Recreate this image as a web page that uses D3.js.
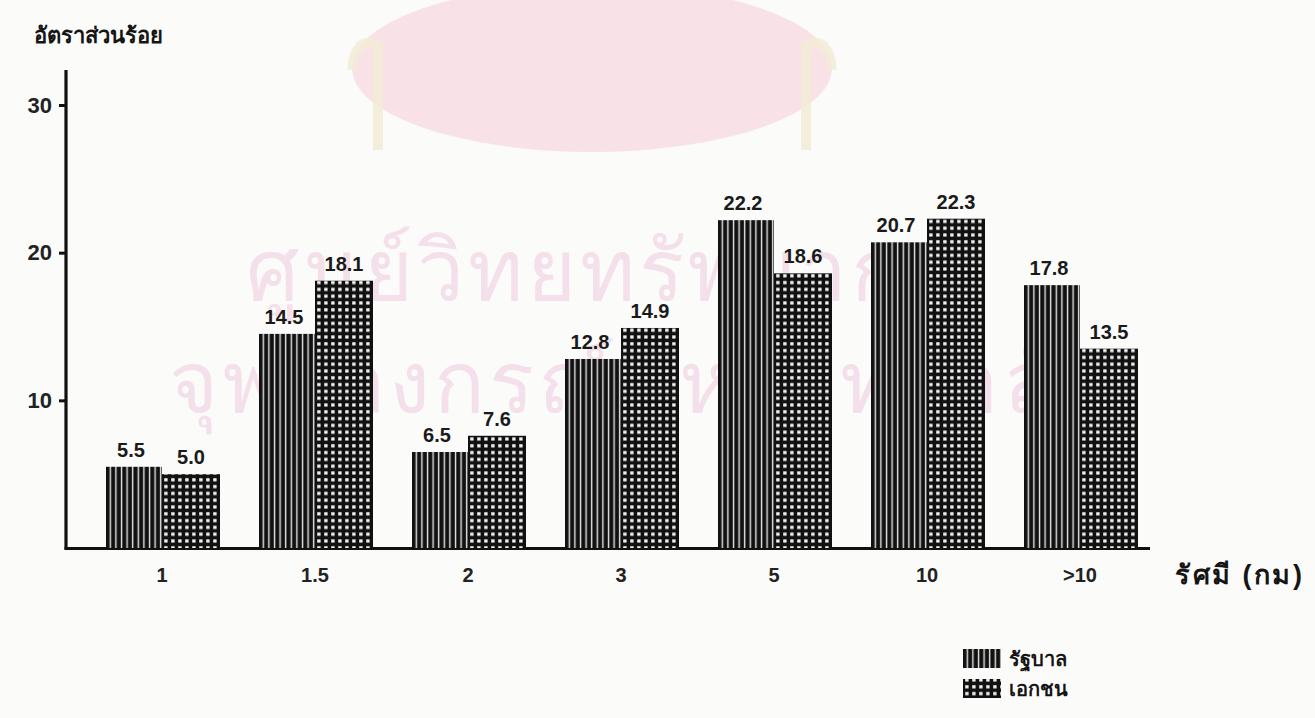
<!DOCTYPE html>
<html>
<head>
<meta charset="utf-8">
<script src="https://cdn.jsdelivr.net/npm/d3@7"></script>
<style>
  html, body { margin: 0; padding: 0; background: #fbfbfa; }
  svg { display: block; }
  text { font-family: "Liberation Sans", Arial, "Noto Sans", sans-serif; }
</style>
</head>
<body>
<svg id="chart" width="1315" height="718"></svg>
<script>
// Distance from home (km) and share of respondents (%) by sector
const categories = ["1", "1.5", "2", "3", "5", "10", ">10"];
const government = [5.5, 14.5, 6.5, 12.8, 22.2, 20.7, 17.8];
const privateSector = [5.0, 18.1, 7.6, 14.9, 18.6, 22.3, 13.5];
const yTicks = [10, 20, 30];
const seriesNames = ["รัฐบาล", "เอกชน"];

const svg = d3.select("#chart");

// Patterns: vertical hatching for government, grid for private
const defs = svg.append("defs");
const pv = defs.append("pattern").attr("id", "pat-gov")
  .attr("patternUnits", "userSpaceOnUse").attr("width", 5.6).attr("height", 10);
pv.append("rect").attr("width", 5.6).attr("height", 10).attr("fill", "#111");
pv.append("rect").attr("x", 3.6).attr("width", 1.4).attr("height", 10).attr("fill", "#e8e8e8");

const pg = defs.append("pattern").attr("id", "pat-priv")
  .attr("patternUnits", "userSpaceOnUse").attr("width", 7).attr("height", 6.8);
pg.append("rect").attr("width", 7).attr("height", 6.8).attr("fill", "#111");
pg.append("rect").attr("x", 2.2).attr("y", 2.2).attr("width", 3.4).attr("height", 3.2).attr("fill", "#f2f2f2");

// Faint library stamp behind the chart
const stamp = svg.append("g").attr("class", "stamp");
stamp.append("ellipse").attr("cx", 592).attr("cy", 68).attr("rx", 240).attr("ry", 84)
  .attr("fill", "#f7dfe5").attr("opacity", 0.9);
stamp.append("path")
  .attr("d", "M352,70 Q355,35 378,45 L378,150 M832,70 Q829,35 806,45 L806,150")
  .attr("fill", "none").attr("stroke", "#f3ecd6").attr("stroke-width", 10).attr("opacity", 0.8);
stamp.append("text").attr("x", 600).attr("y", 300).attr("text-anchor", "middle")
  .attr("font-size", 84).attr("letter-spacing", 4).attr("fill", "#f4e0ea").text("ศูนย์วิทยทรัพยากร");
stamp.append("text").attr("x", 640).attr("y", 412).attr("text-anchor", "middle")
  .attr("font-size", 84).attr("letter-spacing", 4).attr("fill", "#f4e0ea").text("จุฬาลงกรณ์มหาวิทยาลัย");

// Scales
const x0 = d3.scaleBand().domain(categories).range([85.5, 1156.5]).padding(0);
const y = d3.scaleLinear().domain([0, 30]).range([548, 105]);
const barW = 56;

// Axes
const axisG = svg.append("g");
axisG.append("line").attr("x1", 66).attr("x2", 66).attr("y1", 70).attr("y2", 549.5)
  .attr("stroke", "#111").attr("stroke-width", 3.2);
axisG.append("line").attr("x1", 64.5).attr("x2", 1150).attr("y1", 548.5).attr("y2", 548.5)
  .attr("stroke", "#111").attr("stroke-width", 3);

const yAxis = d3.axisLeft(y).tickValues(yTicks).tickSize(7).tickPadding(7).tickFormat(d3.format("d"));
const yg = svg.append("g").attr("transform", "translate(66,0)").call(yAxis);
yg.select(".domain").remove();
yg.selectAll(".tick line").attr("stroke", "#111").attr("stroke-width", 3);
yg.selectAll(".tick text").style("font-size", "22px").style("font-weight", "bold").attr("fill", "#222");

const xAxis = d3.axisBottom(x0).tickSize(0).tickPadding(19);
const xg = svg.append("g").attr("transform", "translate(0,549)").call(xAxis);
xg.select(".domain").remove();
xg.selectAll(".tick text").style("font-size", "20px").style("font-weight", "bold").attr("fill", "#222");

// Bars
const groups = svg.append("g").selectAll("g").data(categories).join("g")
  .attr("transform", d => `translate(${x0(d) + x0.bandwidth() / 2},0)`);

groups.append("rect")
  .attr("x", -barW).attr("width", barW)
  .attr("y", (d, i) => y(government[i]))
  .attr("height", (d, i) => y(0) - y(government[i]))
  .attr("fill", "url(#pat-gov)");
groups.append("rect")
  .attr("x", 0).attr("width", barW + 2)
  .attr("y", (d, i) => y(privateSector[i]))
  .attr("height", (d, i) => y(0) - y(privateSector[i]))
  .attr("fill", "url(#pat-priv)");

// Value labels
groups.append("text")
  .attr("x", -barW / 2 - 3)
  .attr("y", (d, i) => y(government[i]) - 10)
  .attr("text-anchor", "middle").style("font-size", "20px").style("font-weight", "bold").attr("fill", "#1a1a1a")
  .text((d, i) => government[i].toFixed(1));
groups.append("text")
  .attr("x", barW / 2 + 1)
  .attr("y", (d, i) => y(privateSector[i]) - 10)
  .attr("text-anchor", "middle").style("font-size", "20px").style("font-weight", "bold").attr("fill", "#1a1a1a")
  .text((d, i) => privateSector[i].toFixed(1));

// Axis titles
svg.append("text").attr("x", 34).attr("y", 43).style("font-size", "22px").style("font-weight", "bold")
  .attr("fill", "#151515").text("อัตราส่วนร้อย");
svg.append("text").attr("x", 1175).attr("y", 584).style("font-size", "27px").style("font-weight", "bold")
  .attr("letter-spacing", 2.5).attr("fill", "#151515").text("รัศมี (กม)");

// Legend
const legend = svg.append("g").attr("transform", "translate(963,649)");
["url(#pat-gov)", "url(#pat-priv)"].forEach((fill, i) => {
  legend.append("rect").attr("x", 0).attr("y", i * 30).attr("width", 38).attr("height", 19).attr("fill", fill);
  legend.append("text").attr("x", 46).attr("y", i * 30 + 17).style("font-size", "20px").style("font-weight", "bold")
    .attr("fill", "#151515").text(seriesNames[i]);
});
</script>
</body>
</html>
